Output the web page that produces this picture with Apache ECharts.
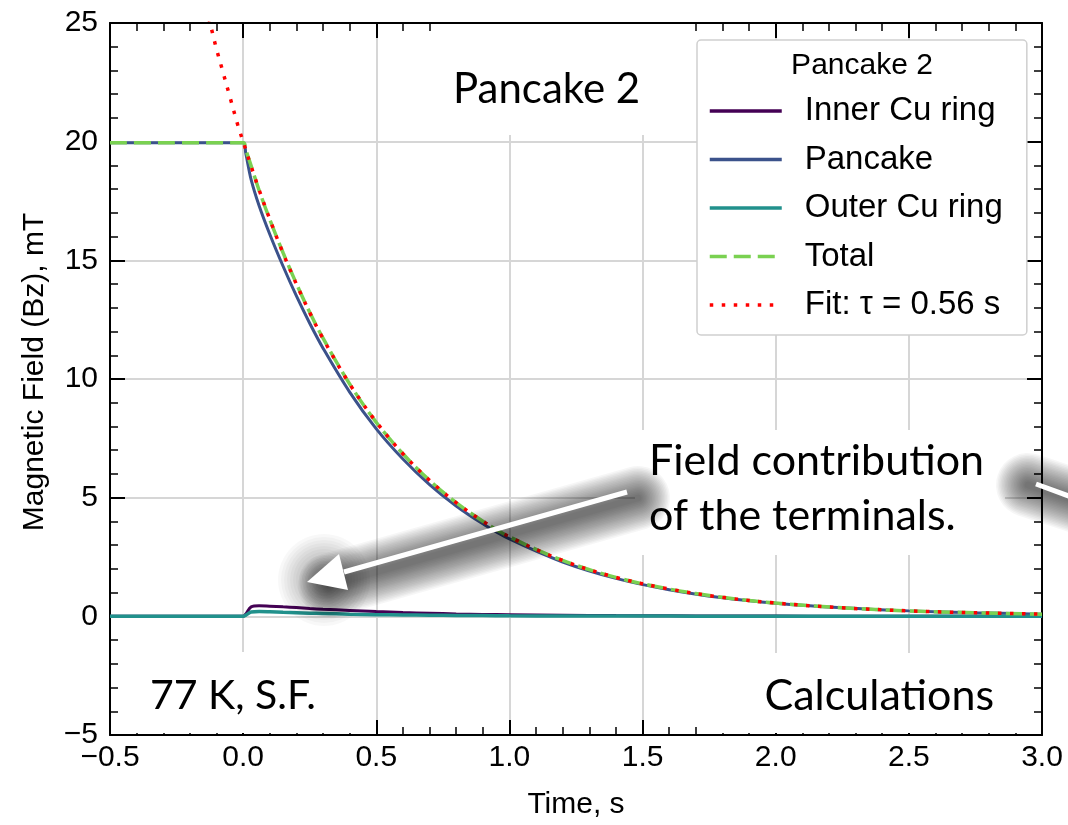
<!DOCTYPE html>
<html><head><meta charset="utf-8">
<script src="https://cdn.jsdelivr.net/npm/echarts@6/dist/echarts.min.js"></script>
<style>html,body{margin:0;padding:0;background:#fff}#c{width:1068px;height:825px}</style>
</head><body><div id="c"></div><script>
// ---- data ----
const TIME    = [-0.5, 0, 0.01, 0.03, 0.06, 0.1, 0.15, 0.2, 0.25, 0.3, 0.4, 0.5, 0.6, 0.7, 0.8, 0.9, 1.0, 1.2, 1.4, 1.6, 1.8, 2.0, 2.25, 2.5, 2.75, 3.0];
const INNER   = [0, 0, 0.1, 0.4, 0.45, 0.43, 0.4, 0.37, 0.33, 0.3, 0.25, 0.2, 0.16, 0.13, 0.1, 0.08, 0.07, 0.05, 0.03, 0.02, 0.015, 0.01, 0.005, 0, 0, 0];
const PANCAKE = [19.95, 19.95, 19.5, 18.4, 17.3, 16.1, 14.75, 13.5, 12.35, 11.3, 9.45, 7.9, 6.63, 5.55, 4.65, 3.9, 3.26, 2.29, 1.6, 1.12, 0.78, 0.55, 0.36, 0.23, 0.15, 0.09];
const OUTER   = [0, 0, 0.05, 0.18, 0.2, 0.19, 0.17, 0.15, 0.13, 0.12, 0.09, 0.07, 0.06, 0.05, 0.04, 0.03, 0.02, 0.015, 0.01, 0.01, 0.005, 0, 0, 0, 0, 0];
const TOTAL   = [19.95, 19.95, 19.65, 18.98, 17.95, 16.72, 15.32, 14.02, 12.81, 11.72, 9.79, 8.17, 6.85, 5.73, 4.79, 4.01, 3.35, 2.355, 1.64, 1.15, 0.8, 0.56, 0.365, 0.23, 0.15, 0.09];
const FIT_TIME = [-0.14, -0.12, -0.1, -0.08, -0.05, -0.02, 0, 0.03, 0.06, 0.1, 0.15, 0.2, 0.25, 0.3, 0.4, 0.5, 0.6, 0.7, 0.8, 0.9, 1.0, 1.2, 1.4, 1.6, 1.8, 2.0, 2.25, 2.5, 2.75, 3.0];
const FIT      = [25.7, 24.8, 23.9, 23.1, 21.9, 20.7, 20.0, 18.96, 17.97, 16.73, 15.3, 14.0, 12.8, 11.7, 9.79, 8.19, 6.85, 5.73, 4.79, 4.01, 3.35, 2.35, 1.64, 1.15, 0.8, 0.56, 0.36, 0.23, 0.15, 0.09];
const SERIES_NAMES = ['Inner Cu ring', 'Pancake', 'Outer Cu ring', 'Total', 'Fit: \u03c4 = 0.56 s'];
const X_MIN = -0.5, X_MAX = 3.0, X_STEP = 0.5;
const Y_MIN = -5, Y_MAX = 25, Y_STEP = 5;

const pair = (xs, ys) => xs.map((x, i) => [x, ys[i]]);
const minus = s => String(s).replace('-', '\u2212');
const AX = 'Liberation Sans, Arial, sans-serif';
const OV = 'Lato, sans-serif';

const chart = echarts.init(document.getElementById('c'), null, {renderer: 'canvas'});

function axisBase(show) {
  return {
    type: 'value',
    axisLine: {show: true, onZero: false, lineStyle: {color: '#000', width: 2}},
    axisTick: {show: true, inside: true, length: 15, lineStyle: {color: '#000', width: 2}},
    minorTick: {show: true, splitNumber: 5, length: 8, lineStyle: {color: '#000', width: 1.5}},
    splitLine: {show: show, lineStyle: {color: '#d6d6d6', width: 2}},
    axisLabel: {show: show, color: '#000', fontSize: 30, fontFamily: AX}
  };
}

const xMain = Object.assign(axisBase(true), {
  min: X_MIN, max: X_MAX, interval: X_STEP, position: 'bottom',
  name: 'Time, s', nameLocation: 'middle', nameGap: 55,
  nameTextStyle: {color: '#000', fontSize: 30, fontFamily: AX}
});
xMain.axisLabel.formatter = v => minus(v.toFixed(1));
xMain.axisLabel.margin = 8;
const xTop = Object.assign(axisBase(false), {min: X_MIN, max: X_MAX, interval: X_STEP, position: 'top'});

const yMain = Object.assign(axisBase(true), {
  min: Y_MIN, max: Y_MAX, interval: Y_STEP, position: 'left',
  name: 'Magnetic Field (Bz), mT', nameLocation: 'middle', nameGap: 60,
  nameTextStyle: {color: '#000', fontSize: 30, fontFamily: AX, padding: [0, 0, 0, 14]}
});
yMain.axisLabel.formatter = v => minus(v);
yMain.axisLabel.margin = 12;
const yRight = Object.assign(axisBase(false), {min: Y_MIN, max: Y_MAX, interval: Y_STEP, position: 'right'});

function lineSeries(name, xs, ys, color, width, type, z) {
  return {
    name, type: 'line', data: pair(xs, ys), xAxisIndex: 0, yAxisIndex: 0,
    symbol: 'none', showSymbol: false, smooth: 0.35,
    lineStyle: {color, width, type}, itemStyle: {color}, z, silent: true, animation: false
  };
}

// soft shadow made of many layered translucent strokes (annotation only, pixels)
function softShadow(x1, y1, x2, y2, head) {
  const out = [];
  for (let w = 64; w >= 6; w -= 3) {
    out.push({type: 'line', z: 50, silent: true, shape: {x1, y1, x2, y2},
      style: {stroke: 'rgba(0,0,0,0.036)', lineWidth: w, lineCap: 'round'}});
  }
  if (head) {
    for (let r = 46; r >= 8; r -= 3) {
      out.push({type: 'circle', z: 50, silent: true, shape: {cx: head[0], cy: head[1], r},
        style: {fill: 'rgba(0,0,0,0.026)'}});
    }
  }
  return out;
}

chart.setOption({
  animation: false,
  backgroundColor: '#fff',
  grid: {left: 110, right: 26, top: 23, bottom: 84, containLabel: false},
  xAxis: [xMain, xTop],
  yAxis: [yMain, yRight],
  legend: {
    orient: 'vertical', left: 697, top: 40,
    data: SERIES_NAMES,
    itemWidth: 72, itemHeight: 14, itemGap: 12.5,
    padding: [53, 24, 12, 11],
    backgroundColor: '#fff', borderColor: '#cfcfcf', borderWidth: 1.5, borderRadius: 4,
    itemStyle: {opacity: 0},
    lineStyle: {width: 3.5},
    textStyle: {color: '#000', fontSize: 33, fontFamily: AX, lineHeight: 36, padding: [0, 0, 0, 18]},
    selectedMode: false, z: 20
  },
  series: [
    lineSeries(SERIES_NAMES[0], TIME, INNER, '#440154', 3, 'solid', 2),
    lineSeries(SERIES_NAMES[1], TIME, PANCAKE, '#3b528b', 3, 'solid', 3),
    lineSeries(SERIES_NAMES[2], TIME, OUTER, '#21918c', 3.5, 'solid', 4),
    lineSeries(SERIES_NAMES[3], TIME, TOTAL, '#7ad151', 3.5, [17, 7], 5),
    lineSeries(SERIES_NAMES[4], FIT_TIME, FIT, '#ff0000', 3.5, [3.5, 8.5], 6)
  ],
  graphic: [].concat(
    [
      // white text boxes
      {type: 'rect', z: 1, silent: true, shape: {x: 440, y: 24, width: 250, height: 111}, style: {fill: '#fff'}},
      {type: 'rect', z: 1, silent: true, shape: {x: 635, y: 430, width: 370, height: 125}, style: {fill: '#fff'}},
      {type: 'rect', z: 1, silent: true, shape: {x: 128, y: 652, width: 236, height: 81}, style: {fill: '#fff'}},
      {type: 'rect', z: 1, silent: true, shape: {x: 700, y: 653, width: 330, height: 80}, style: {fill: '#fff'}}
    ],
    softShadow(638, 498, 330, 585, [324, 580]),
    softShadow(1028, 485, 1110, 512, null),
    [
      // white arrows
      {type: 'line', z: 51, silent: true, shape: {x1: 627, y1: 492, x2: 344, y2: 572}, style: {stroke: '#fff', lineWidth: 5}},
      {type: 'polygon', z: 51, silent: true, shape: {points: [[307, 582], [348, 590], [339, 554]]}, style: {fill: '#fff'}},
      {type: 'line', z: 51, silent: true, shape: {x1: 1036, y1: 484, x2: 1085, y2: 502}, style: {stroke: '#fff', lineWidth: 5}},
      // overlay texts
      {type: 'text', z: 60, silent: true, style: {x: 453, y: 89, text: 'Pancake 2', font: '42px ' + OV, fill: '#000', textVerticalAlign: 'middle'}},
      {type: 'text', z: 60, silent: true, style: {x: 649, y: 461, text: 'Field contribution', font: '43px ' + OV, fill: '#000', textVerticalAlign: 'middle'}},
      {type: 'text', z: 60, silent: true, style: {x: 649, y: 516, text: 'of the terminals.', font: '43px ' + OV, fill: '#000', textVerticalAlign: 'middle'}},
      {type: 'text', z: 60, silent: true, style: {x: 150, y: 696, text: '77 K, S.F.', font: '41px ' + OV, fill: '#000', textVerticalAlign: 'middle'}},
      {type: 'text', z: 60, silent: true, style: {x: 994, y: 696, text: 'Calculations', font: '43px ' + OV, fill: '#000', textAlign: 'right', textVerticalAlign: 'middle'}},
      // legend title
      {type: 'text', z: 100, silent: true, style: {x: 862, y: 66, text: 'Pancake 2', font: '30px ' + AX, fill: '#000', textAlign: 'center', textVerticalAlign: 'middle'}}
    ]
  )
});
</script></body></html>
